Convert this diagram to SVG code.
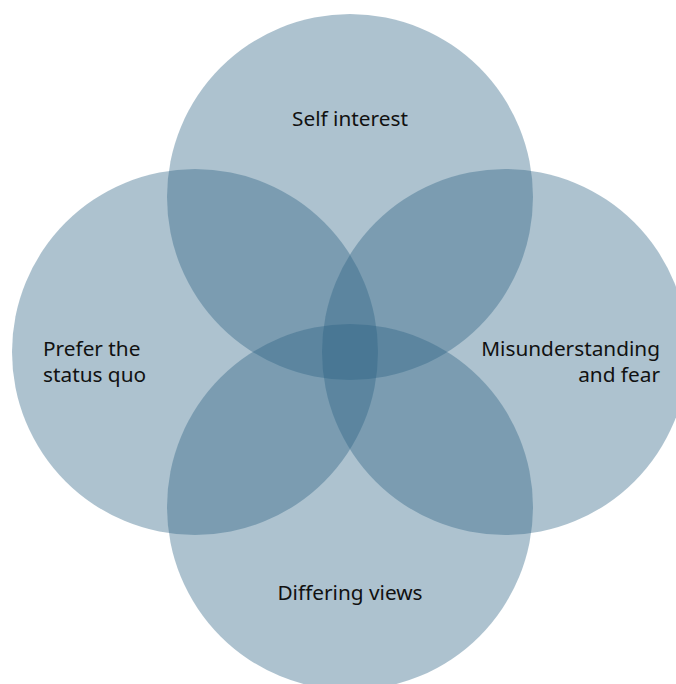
<svg xmlns="http://www.w3.org/2000/svg" width="676" height="684" viewBox="0 0 676 684">
<style>
.c{fill:#2d6384;fill-opacity:0.39}
.t{font-family:"Noto Sans","DejaVu Sans",sans-serif;font-size:20.8px;fill:#111}
</style>
<rect width="676" height="684" fill="#fff"/>
<g id="top"><circle class="c" cx="350" cy="197" r="183"/><text class="t" x="350" y="126" text-anchor="middle">Self interest</text></g>
<g id="left"><circle class="c" cx="195" cy="352" r="183"/><text class="t" x="43" y="356">Prefer the</text><text class="t" x="43" y="382">status quo</text></g>
<g id="right"><circle class="c" cx="505" cy="352" r="183"/><text class="t" x="660" y="356" text-anchor="end">Misunderstanding</text><text class="t" x="660" y="382" text-anchor="end">and fear</text></g>
<g id="bottom"><circle class="c" cx="350" cy="507" r="183"/><text class="t" x="350" y="600" text-anchor="middle">Differing views</text></g>
<g id="connectors"/>
</svg>
